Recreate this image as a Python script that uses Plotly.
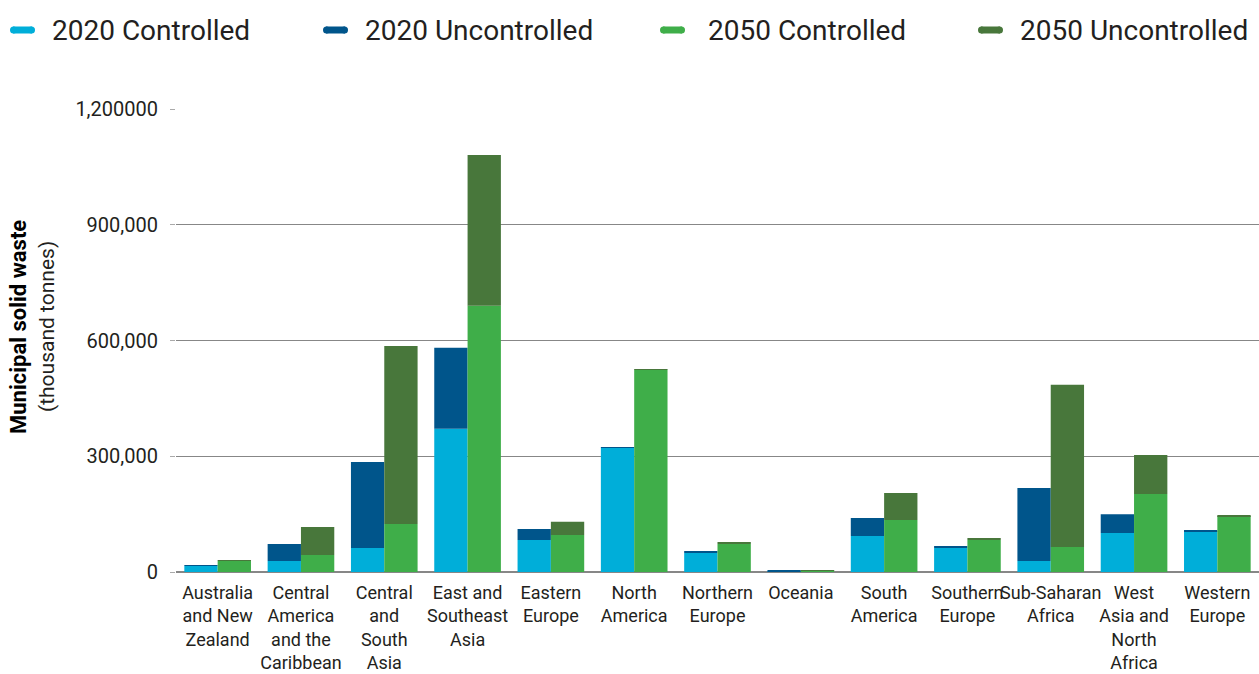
import plotly.graph_objects as go

# Regions (x-axis categories)
regions = [
    "Australia<br>and New<br>Zealand",
    "Central<br>America<br>and the<br>Caribbean",
    "Central<br>and<br>South<br>Asia",
    "East and<br>Southeast<br>Asia",
    "Eastern<br>Europe",
    "North<br>America",
    "Northern<br>Europe",
    "Oceania",
    "South<br>America",
    "Southern<br>Europe",
    "Sub-Saharan<br>Africa",
    "West<br>Asia and<br>North<br>Africa",
    "Western<br>Europe",
]

# Municipal solid waste, thousand tonnes
controlled_2020 = [15600, 28500, 62000, 371000, 83000, 321600, 49300, 1500, 93400, 62000, 28500, 101000, 106000]
total_2020 = [16000, 72600, 285000, 581000, 111500, 322000, 51900, 3000, 140000, 67400, 218000, 150000, 106500]
controlled_2050 = [28500, 44000, 124500, 690000, 96000, 524000, 72600, 3500, 135000, 83000, 65000, 202000, 145000]
total_2050 = [31000, 116700, 586000, 1081000, 130000, 526000, 75200, 5000, 205000, 88200, 485000, 303000, 148000]

uncontrolled_2020 = [t - c for t, c in zip(total_2020, controlled_2020)]
uncontrolled_2050 = [t - c for t, c in zip(total_2050, controlled_2050)]

# Axis ticks
tick_vals = [0, 300000, 600000, 900000, 1200000]
tick_text = ["0", "300,000", "600,000", "900,000", "1,200000"]

# Series names for the key
series_names = ["2020 Controlled", "2020 Uncontrolled", "2050 Controlled", "2050 Uncontrolled"]

C20 = "#00aed9"
U20 = "#00558b"
C50 = "#3fae49"
U50 = "#48773b"
TEXT = "#231f20"
FONT = "Roboto"

W, H = 1259, 674
ML, MR, MT, MB = 176, 0, 109, 102
PW, PH = W - ML - MR, H - MT - MB


def px_x(px):
    return (px - ML) / PW


def px_y(py):
    return (H - MB - py) / PH


fig = go.Figure()

fig.add_trace(go.Bar(x=regions, y=controlled_2020, offsetgroup="2020", name=series_names[0],
                     marker=dict(color=C20, line=dict(width=0)), showlegend=False))
fig.add_trace(go.Bar(x=regions, y=uncontrolled_2020, base=controlled_2020, offsetgroup="2020",
                     name=series_names[1], marker=dict(color=U20, line=dict(width=0)),
                     showlegend=False))
fig.add_trace(go.Bar(x=regions, y=controlled_2050, offsetgroup="2050", name=series_names[2],
                     marker=dict(color=C50, line=dict(width=0)), showlegend=False))
fig.add_trace(go.Bar(x=regions, y=uncontrolled_2050, base=controlled_2050, offsetgroup="2050",
                     name=series_names[3], marker=dict(color=U50, line=dict(width=0)),
                     showlegend=False))

fig.update_layout(
    width=W, height=H,
    margin=dict(l=ML, r=MR, t=MT, b=MB),
    paper_bgcolor="white", plot_bgcolor="white",
    barmode="group", bargap=0.2, bargroupgap=0,
    font=dict(family=FONT, color=TEXT),
    showlegend=False,
    xaxis=dict(tickfont=dict(size=18, family=FONT, color=TEXT), tickangle=0,
               showgrid=False, showline=False, ticks="", ticklabelstandoff=8),
    yaxis=dict(range=[0, 1200000], tickvals=tick_vals, ticktext=tick_text,
               tickfont=dict(size=20, family=FONT, color=TEXT),
               showgrid=True, gridcolor="#878787", gridwidth=1,
               zeroline=True, zerolinecolor="#878787", zerolinewidth=1.5,
               ticks="outside", ticklen=5, tickcolor="#aaaaaa", showline=False,
               ticklabelstandoff=8),
)

# Key across the top: short thick swatch followed by the series name
key_swatch_x = [10, 323, 660, 978]
key_text_x = [50, 363, 706, 1018]
key_y = 30
for name, col, sx, tx in zip(series_names, [C20, U20, C50, U50], key_swatch_x, key_text_x):
    fig.add_shape(type="line", xref="paper", yref="paper",
                  x0=px_x(sx + 3), x1=px_x(sx + 22), y0=px_y(key_y), y1=px_y(key_y),
                  line=dict(color=col, width=7))
    fig.add_shape(type="circle", xref="paper", yref="paper",
                  x0=px_x(sx), x1=px_x(sx + 7), y0=px_y(key_y + 3.5), y1=px_y(key_y - 3.5),
                  fillcolor=col, line=dict(width=0))
    fig.add_shape(type="circle", xref="paper", yref="paper",
                  x0=px_x(sx + 18), x1=px_x(sx + 25), y0=px_y(key_y + 3.5), y1=px_y(key_y - 3.5),
                  fillcolor=col, line=dict(width=0))
    fig.add_annotation(text=name, xref="paper", yref="paper",
                       x=px_x(tx), y=px_y(key_y), xanchor="left", yanchor="middle",
                       showarrow=False, font=dict(size=28, family=FONT, color=TEXT))

fig.add_annotation(text="<b>Municipal solid waste</b>", textangle=-90,
                   xref="paper", yref="paper", x=px_x(18), y=px_y(327),
                   xanchor="center", yanchor="middle", showarrow=False,
                   font=dict(size=22, family=FONT, color="#000000"))
fig.add_annotation(text="(thousand tonnes)", textangle=-90,
                   xref="paper", yref="paper", x=px_x(47), y=px_y(327),
                   xanchor="center", yanchor="middle", showarrow=False,
                   font=dict(size=21, family=FONT, color=TEXT))

fig.write_html("out.html")
